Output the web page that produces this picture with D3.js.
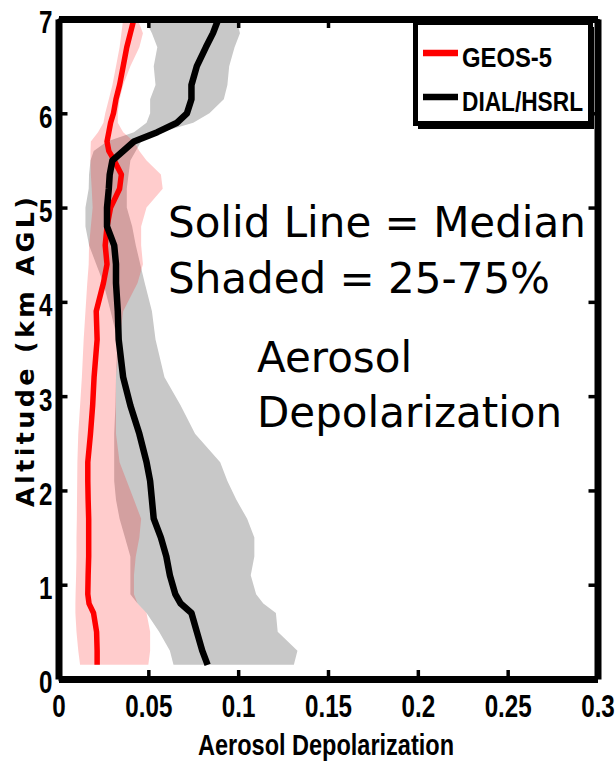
<!DOCTYPE html>
<html>
<head>
<meta charset="utf-8">
<script src="https://cdn.jsdelivr.net/npm/d3@7"></script>
<style>
  html, body { margin: 0; padding: 0; background: #fff; }
  svg { display: block; }
  .bold { font-family: "Liberation Sans", Arial, sans-serif; font-weight: bold; }
</style>
</head>
<body>
<svg id="chart" width="615" height="764"></svg>
<script>
// Altitude levels (km AGL) shared by all profiles
const altitude = [0.15, 0.3, 0.5, 0.7, 0.8, 0.9, 1.1, 1.3, 1.5, 1.7, 1.9, 2.1, 2.3, 2.6, 2.9, 3.2, 3.6, 3.9,
  4.2, 4.4, 4.6, 4.8, 5.0, 5.2, 5.35, 5.5, 5.6, 5.7, 5.8, 5.9, 6.0, 6.15, 6.3, 6.5, 6.7, 6.85, 7.0];

// GEOS-5 aerosol depolarization: median and 25th / 75th percentiles
const geosMedian = [0.0215, 0.0215, 0.0212, 0.0195, 0.017, 0.0163, 0.0165, 0.0168, 0.0168, 0.0168, 0.0165, 0.0163, 0.0163,
  0.0178, 0.019, 0.0198, 0.0215, 0.021, 0.025, 0.027, 0.026, 0.027, 0.029, 0.034, 0.035, 0.031, 0.028, 0.027, 0.028,
  0.029, 0.0306, 0.032, 0.034, 0.036, 0.038, 0.040, 0.042];
const geosP25 = [0.012, 0.011, 0.010, 0.0094, 0.0094, 0.0095, 0.0098, 0.010, 0.010, 0.0102, 0.0103, 0.0104, 0.0105,
  0.011, 0.012, 0.013, 0.014, 0.015, 0.016, 0.0168, 0.017, 0.018, 0.019, 0.0185, 0.018, 0.0178, 0.0178, 0.018, 0.022,
  0.025, 0.026, 0.028, 0.030, 0.032, 0.034, 0.035, 0.036];
const geosP75 = [0.050, 0.051, 0.051, 0.049, 0.044, 0.042, 0.042, 0.043, 0.045, 0.046, 0.042, 0.038, 0.034,
  0.032, 0.032, 0.032, 0.034, 0.036, 0.044, 0.047, 0.046, 0.046, 0.049, 0.058, 0.057, 0.049, 0.045, 0.042, 0.036,
  0.033, 0.033, 0.034, 0.036, 0.040, 0.045, 0.047, 0.044];

// DIAL/HSRL aerosol depolarization: median and 25th / 75th percentiles
const dialMedian = [0.083, 0.080, 0.077, 0.074, 0.068, 0.065, 0.062, 0.060, 0.057, 0.053, 0.052, 0.051, 0.049,
  0.045, 0.040, 0.036, 0.0335, 0.033, 0.032, 0.032, 0.031, 0.027, 0.027, 0.028, 0.0285, 0.030, 0.036, 0.042, 0.055,
  0.066, 0.0715, 0.074, 0.074, 0.077, 0.082, 0.086, 0.089];
const dialP25 = [0.064, 0.062, 0.056, 0.049, 0.044, 0.040, 0.040, 0.040, 0.037, 0.034, 0.032, 0.031, 0.031,
  0.031, 0.0317, 0.032, 0.0328, 0.029, 0.025, 0.021, 0.017, 0.015, 0.015, 0.0168, 0.017, 0.0178, 0.0196, 0.027, 0.042,
  0.049, 0.051, 0.051, 0.054, 0.053, 0.055, 0.052, 0.048];
const dialP75 = [0.131, 0.133, 0.122, 0.121, 0.114, 0.110, 0.107, 0.109, 0.109, 0.105, 0.099, 0.094, 0.090,
  0.076, 0.068, 0.059, 0.054, 0.052, 0.048, 0.0455, 0.043, 0.041, 0.038, 0.038, 0.039, 0.040, 0.043, 0.046, 0.057,
  0.075, 0.084, 0.092, 0.094, 0.095, 0.098, 0.101, 0.099];

// Axis ticks
const xTicks = [0, 0.05, 0.1, 0.15, 0.2, 0.25, 0.3];
const xTickLabels = ["0", "0.05", "0.1", "0.15", "0.2", "0.25", "0.3"];
const yTicks = [0, 1, 2, 3, 4, 5, 6, 7];

const seriesNames = ["GEOS-5", "DIAL/HSRL"];
const annotationLines = ["Solid Line = Median", "Shaded = 25-75%"];
const subtitleLines = ["Aerosol", "Depolarization"];

const NARROW = 0.78; // horizontal squeeze giving a condensed bold face

const svg = d3.select("#chart");
const x = d3.scaleLinear().domain([0, 0.3]).range([58.5, 597.5]);
const y = d3.scaleLinear().domain([0, 7]).range([679, 19]);

const band = (lo, hi) => d3.area()
  .y((d, i) => y(altitude[i]))
  .x0((d, i) => x(lo[i]))
  .x1((d, i) => x(hi[i]))(altitude);
const profile = (vals) => d3.line()
  .x((d, i) => x(vals[i]))
  .y((d, i) => y(altitude[i]))(altitude);

// Interquartile shading
svg.append("path").attr("d", band(dialP25, dialP75)).attr("fill", "#c8c8c8");
svg.append("path").attr("d", band(geosP25, geosP75)).attr("fill", "rgba(255,0,0,0.2)");

// Median profiles
svg.append("path").attr("d", profile(geosMedian))
  .attr("fill", "none").attr("stroke", "#ff0000").attr("stroke-width", 5.5)
  .attr("stroke-linejoin", "round");
svg.append("path").attr("d", profile(dialMedian))
  .attr("fill", "none").attr("stroke", "#000").attr("stroke-width", 6.5)
  .attr("stroke-linejoin", "round");

// Box axes with inward ticks
function styleAxis(g) {
  g.select(".domain").attr("stroke", "#000").attr("stroke-width", 7);
  g.selectAll(".tick line").attr("stroke", "#000").attr("stroke-width", 3.5);
  g.selectAll(".tick text").attr("class", "bold").attr("fill", "#000").attr("font-size", 31);
}
svg.append("g").attr("transform", `translate(0,${y(0)})`)
  .call(d3.axisBottom(x).tickValues(xTicks).tickFormat((d, i) => xTickLabels[i])
    .tickSizeInner(-9).tickSizeOuter(0).tickPadding(12))
  .call(styleAxis)
  .call(g => g.selectAll(".tick text").attr("dy", "0.71em").attr("y", 16)
    .attr("transform", `scale(${NARROW},1)`));
svg.append("g").attr("transform", `translate(0,${y(7)})`)
  .call(d3.axisTop(x).tickValues(xTicks).tickFormat("").tickSizeInner(-9).tickSizeOuter(0))
  .call(styleAxis);
svg.append("g").attr("transform", `translate(${x(0)},0)`)
  .call(d3.axisLeft(y).tickValues(yTicks).tickFormat(d3.format("d"))
    .tickSizeInner(-9).tickSizeOuter(0).tickPadding(5))
  .call(styleAxis)
  .call(g => g.selectAll(".tick text").attr("x", -6 / NARROW).attr("dy", "0.45em")
    .attr("transform", `scale(${NARROW},1)`));
svg.append("g").attr("transform", `translate(${x(0.3)},0)`)
  .call(d3.axisRight(y).tickValues(yTicks).tickFormat("").tickSizeInner(-9).tickSizeOuter(0))
  .call(styleAxis);

// Axis titles
svg.append("text").attr("class", "bold")
  .attr("x", 326).attr("y", 755).attr("text-anchor", "middle").attr("font-size", 29)
  .attr("textLength", 256).attr("lengthAdjust", "spacingAndGlyphs")
  .text("Aerosol Depolarization");
svg.append("text")
  .attr("transform", "translate(34,352) rotate(-90)")
  .attr("text-anchor", "middle")
  .attr("font-family", "'DejaVu Sans', Verdana, sans-serif").attr("font-weight", "bold")
  .attr("font-size", 25.5)
  .attr("textLength", 310).attr("lengthAdjust", "spacing")
  .text("Altitude (km AGL)");

// Annotations
const note = svg.append("g")
  .attr("font-family", "'DejaVu Sans', Verdana, sans-serif").attr("font-size", 42).attr("fill", "#000");
note.selectAll("text.a").data(annotationLines).join("text").attr("class", "a")
  .attr("x", 168).attr("y", (d, i) => 237 + i * 56).text(d => d);
note.selectAll("text.b").data(subtitleLines).join("text").attr("class", "b")
  .attr("x", 257).attr("y", (d, i) => 372 + i * 55).text(d => d);

// Legend
const legend = svg.append("g");
legend.append("rect").attr("x", 418).attr("y", 27).attr("width", 176).attr("height", 102).attr("fill", "#000");
legend.append("rect").attr("x", 415.5).attr("y", 22.5).attr("width", 175).attr("height", 101)
  .attr("fill", "#fff").attr("stroke", "#000").attr("stroke-width", 5);
const entryColors = ["#ff0000", "#000"];
const entryWidths = [90, 121];
seriesNames.forEach((name, i) => {
  const cy = 53 + i * 44;
  legend.append("line").attr("x1", 423).attr("x2", 458).attr("y1", cy).attr("y2", cy)
    .attr("stroke", entryColors[i]).attr("stroke-width", 6.5);
  legend.append("text").attr("class", "bold").attr("x", 462).attr("y", cy + 14)
    .attr("font-size", 27.5).attr("fill", "#000")
    .attr("textLength", entryWidths[i]).attr("lengthAdjust", "spacingAndGlyphs")
    .text(name);
});
</script>
</body>
</html>
